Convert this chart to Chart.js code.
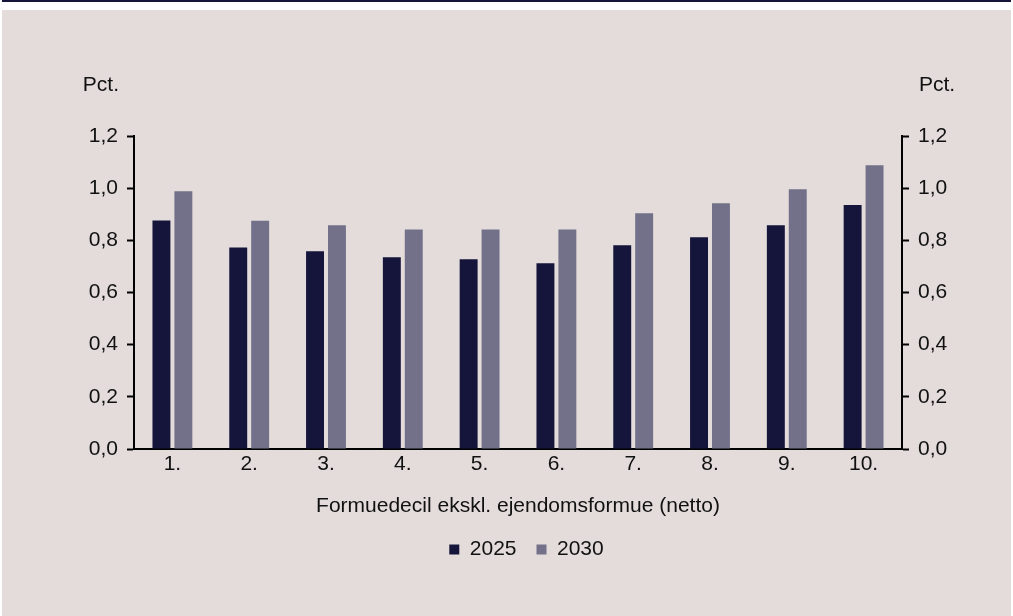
<!DOCTYPE html>
<html>
<head>
<meta charset="utf-8">
<script src="https://cdn.jsdelivr.net/npm/chart.js@4.4.1/dist/chart.umd.min.js"></script>
<style>
  html, body { margin: 0; padding: 0; background: #fff; }
  #wrap { position: relative; width: 1013px; height: 616px; overflow: hidden; }
  #topline { position: absolute; left: 2px; top: 0; width: 1009px; height: 2px; background: #15153a; }
  #panel { position: absolute; left: 2px; top: 10px; width: 1009px; height: 606px; background: #e3dcdb; }
  #chart { position: absolute; left: 0; top: 0; }
</style>
</head>
<body>
<div id="wrap">
  <div id="topline"></div>
  <div id="panel"></div>
  <canvas id="chart" width="1013" height="616"></canvas>
</div>
<script>
  const deciler = ['1.', '2.', '3.', '4.', '5.', '6.', '7.', '8.', '9.', '10.'];
  const aar2025 = [0.876, 0.773, 0.758, 0.735, 0.727, 0.712, 0.781, 0.812, 0.858, 0.935];
  const aar2030 = [0.988, 0.875, 0.858, 0.842, 0.842, 0.842, 0.904, 0.942, 0.996, 1.088];
  const yTicks = [0, 0.2, 0.4, 0.6, 0.8, 1.0, 1.2];

  const fontFam = '"Liberation Sans", Arial, sans-serif';
  Chart.defaults.font.family = fontFam;
  Chart.defaults.font.size = 21;
  Chart.defaults.color = '#111';

  const fmt = v => v.toFixed(1).replace('.', ',');

  // "Pct." over each value axis
  const pctLabels = {
    id: 'pctLabels',
    afterDraw(chart) {
      const c = chart.ctx;
      const top = chart.chartArea.top;
      c.save();
      c.font = '21px ' + fontFam;
      c.fillStyle = '#111';
      c.textBaseline = 'middle';
      c.textAlign = 'right';
      c.fillText('Pct.', chart.scales.y.right - 15, top - 51);
      c.textAlign = 'left';
      c.fillText('Pct.', chart.scales.y2.left + 17, top - 51);
      c.restore();
    }
  };

  const yAxis = (pos, w) => ({
    position: pos,
    min: 0,
    max: 1.2,
    afterBuildTicks: s => { s.ticks = yTicks.map(v => ({ value: v })); },
    afterFit: s => { s.width = w; },
    ticks: { padding: 9, callback: v => fmt(v) },
    grid: { drawOnChartArea: false, drawTicks: true, tickLength: 7, tickWidth: 2, color: '#000' },
    border: { display: true, color: '#000', width: 2 }
  });

  new Chart(document.getElementById('chart'), {
    type: 'bar',
    data: {
      labels: deciler,
      datasets: [
        { label: '2025', data: aar2025, backgroundColor: '#15143a', yAxisID: 'y' },
        { label: '2030', data: aar2030, backgroundColor: '#727189', yAxisID: 'y' }
      ]
    },
    options: {
      responsive: false,
      animation: false,
      categoryPercentage: 0.571,
      barPercentage: 0.818,
      layout: { padding: { top: 136, left: 40, right: 0, bottom: 46 } },
      scales: {
        x: {
          grid: { display: false, drawTicks: false },
          border: { display: true, color: '#000', width: 2 },
          ticks: { padding: 3 },
          title: { display: true, text: 'Formuedecil ekskl. ejendomsformue (netto)', padding: { top: 0, bottom: 0 } },
          afterFit: s => { s.height = 70; }
        },
        y: yAxis('left', 94),
        y2: yAxis('right', 111)
      },
      plugins: {
        legend: {
          position: 'bottom',
          labels: { boxWidth: 10, boxHeight: 10, padding: 20, font: { size: 21 } }
        },
        tooltip: { enabled: false }
      }
    },
    plugins: [pctLabels]
  });
</script>
</body>
</html>
